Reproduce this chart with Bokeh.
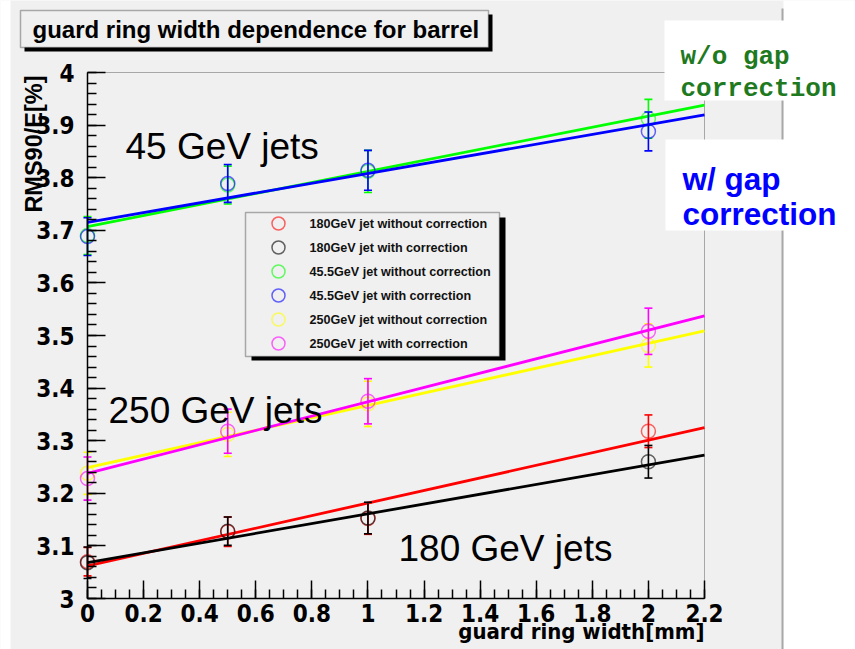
import numpy as np
from bokeh.plotting import figure
from bokeh.models import Range1d, FixedTicker, CustomJSTickFormatter, Label, BoxAnnotation
from bokeh.embed import file_html
from bokeh.resources import INLINE

# guard ring width [mm]
widths = [0.0, 0.5, 1.0, 2.0]

# RMS90/E [%] and its error, per jet energy, without / with gap correction
rms_180_nocorr = [3.070, 3.127, 3.152, 3.318]
err_180_nocorr = [0.027, 0.028, 0.030, 0.031]
rms_180_corr = [3.068, 3.128, 3.153, 3.260]
err_180_corr = [0.030, 0.027, 0.030, 0.031]
rms_45_nocorr = [3.690, 3.786, 3.812, 3.912]
err_45_nocorr = [0.036, 0.036, 0.040, 0.037]
rms_45_corr = [3.688, 3.789, 3.814, 3.888]
err_45_corr = [0.036, 0.036, 0.038, 0.037]
rms_250_nocorr = [3.238, 3.312, 3.370, 3.481]
err_250_nocorr = [0.040, 0.042, 0.043, 0.041]
rms_250_corr = [3.228, 3.318, 3.375, 3.508]
err_250_corr = [0.041, 0.042, 0.043, 0.044]

# straight-line fits: (intercept, slope)
fit_180_nocorr = (3.062, 0.1195)
fit_180_corr = (3.068, 0.093)
fit_45_nocorr = (3.707, 0.105)
fit_45_corr = (3.715, 0.093)
fit_250_nocorr = (3.249, 0.118)
fit_250_corr = (3.238, 0.136)

series = [
    ("180GeV jet without correction", rms_180_nocorr, err_180_nocorr, fit_180_nocorr, "#ff0000"),
    ("180GeV jet with correction", rms_180_corr, err_180_corr, fit_180_corr, "#000000"),
    ("45.5GeV jet without correction", rms_45_nocorr, err_45_nocorr, fit_45_nocorr, "#00ff00"),
    ("45.5GeV jet with correction", rms_45_corr, err_45_corr, fit_45_corr, "#0000ff"),
    ("250GeV jet without correction", rms_250_nocorr, err_250_nocorr, fit_250_nocorr, "#ffff00"),
    ("250GeV jet with correction", rms_250_corr, err_250_corr, fit_250_corr, "#ff00ff"),
]

# axis ticks
x_ticks = [0, 0.2, 0.4, 0.6, 0.8, 1.0, 1.2, 1.4, 1.6, 1.8, 2.0, 2.2]
y_ticks = [3.0, 3.1, 3.2, 3.3, 3.4, 3.5, 3.6, 3.7, 3.8, 3.9, 4.0]
X_MIN, X_MAX = 0.0, 2.2
Y_MIN, Y_MAX = 3.0, 4.0

W, H = 855, 649
FL, FR, FT, FB = 87, 704, 72, 598   # pixel box of the data pad
BG = "#f0f0f0"
COND = "DejaVu Sans Condensed"
SANS = "Liberation Sans"


def dx(px):
    return X_MIN + (px - FL) * (X_MAX - X_MIN) / (FR - FL)


def dy(py):
    return Y_MIN + (FB - py) * (Y_MAX - Y_MIN) / (FB - FT)


# the frame covers the whole canvas; the data pad sits inside it
p = figure(width=W, height=H, title=None,
           x_range=Range1d(dx(0), dx(W)), y_range=Range1d(dy(H), dy(0)),
           output_backend="svg", toolbar_location=None,
           min_border_left=0, min_border_right=0, min_border_top=0, min_border_bottom=0)
p.background_fill_color = BG
p.border_fill_color = BG
p.grid.visible = False
p.outline_line_color = None

fmt = CustomJSTickFormatter(code="return (Math.round(tick * 10) / 10).toString();")
x_minor = list(np.round(np.arange(0, 2.2001, 0.05), 3))
y_minor = list(np.round(np.arange(3.0, 4.0001, 0.02), 3))
p.xaxis.ticker = FixedTicker(ticks=x_ticks, minor_ticks=x_minor)
p.yaxis.ticker = FixedTicker(ticks=y_ticks, minor_ticks=y_minor)
p.xaxis.fixed_location = Y_MIN
p.yaxis.fixed_location = X_MIN
p.xaxis.bounds = (X_MIN, X_MAX)
p.yaxis.bounds = (Y_MIN, Y_MAX)
for ax in (p.xaxis, p.yaxis):
    ax.formatter = fmt
    ax.major_tick_in = 18
    ax.major_tick_out = 0
    ax.minor_tick_in = 9
    ax.minor_tick_out = 0
    ax.axis_line_width = 1.5
    ax.major_tick_line_width = 1.5
    ax.minor_tick_line_width = 1.5
    ax.major_label_text_font = COND
    ax.major_label_text_font_style = "bold"
    ax.major_label_text_font_size = "24px"
    ax.major_label_text_color = "black"
p.xaxis.major_label_standoff = 5
p.yaxis.major_label_standoff = 13

# canvas edges outside the grey pad, and the pad frame
p.add_layout(BoxAnnotation(left=dx(-5), right=dx(10), bottom=dy(H + 5), top=dy(-5),
                           fill_color="white", fill_alpha=1, line_color=None, level="underlay"))
p.add_layout(BoxAnnotation(left=dx(783), right=dx(W + 5), bottom=dy(H + 5), top=dy(-5),
                           fill_color="white", fill_alpha=1, line_color=None, level="underlay"))
p.add_layout(BoxAnnotation(left=dx(781), right=dx(783), bottom=dy(H + 5), top=dy(8),
                           fill_color="#a8a8a8", fill_alpha=1, line_color=None, level="underlay"))
p.add_layout(BoxAnnotation(left=X_MIN, right=X_MAX, bottom=Y_MIN, top=Y_MAX, fill_alpha=0,
                           line_color="black", line_width=1, level="underlay"))

# data: error bars, markers and fitted lines
x_fit = np.array([X_MIN, X_MAX])
for name, vals, errs, (a, b), col in series:
    v = np.array(vals)
    e = np.array(errs)
    p.segment(x0=widths, y0=v - e, x1=widths, y1=v + e, line_color=col, line_width=1.6)
    p.scatter(x=widths + widths, y=list(v - e) + list(v + e), marker="dash", size=8,
              line_color=col, line_width=1.6)
    p.scatter(x=widths, y=vals, marker="circle", size=14, fill_color=None,
              line_color=col, line_alpha=0.6, line_width=1.5)
    p.line(x=x_fit, y=a + b * x_fit, line_color=col, line_width=2.8)

# legend
p.add_layout(BoxAnnotation(left=dx(251), right=dx(505), top=dy(217), bottom=dy(360),
                           fill_color="black", fill_alpha=1, line_color=None))
p.add_layout(BoxAnnotation(left=dx(245), right=dx(499), top=dy(212), bottom=dy(356),
                           fill_color=BG, fill_alpha=1, line_color="black", line_width=1.5))
leg_y = [dy(223 + 24 * i) for i in range(len(series))]
p.scatter(x=[dx(278)] * len(series), y=leg_y, marker="circle", size=13, fill_color=None,
          line_color=[s[4] for s in series], line_alpha=0.6, line_width=1.5, level="overlay")
for (name, *_), yy in zip(series, leg_y):
    p.add_layout(Label(x=dx(309), y=yy, text=name, text_font=SANS, text_font_style="bold",
                       text_font_size="12.6px", text_baseline="middle", text_color="#111111"))

# title box
p.add_layout(BoxAnnotation(left=dx(24), right=dx(492), top=dy(14), bottom=dy(51),
                           fill_color="black", fill_alpha=1, line_color=None))
p.add_layout(BoxAnnotation(left=dx(20), right=dx(488), top=dy(10), bottom=dy(47),
                           fill_color=BG, fill_alpha=1, line_color="black", line_width=1.5))
p.add_layout(Label(x=dx(32), y=dy(29), text="guard ring width dependence for barrel",
                   text_font=SANS, text_font_style="bold", text_font_size="24px",
                   text_baseline="middle", text_color="black"))

# axis titles
p.add_layout(Label(x=dx(704), y=dy(631), text="guard ring width[mm]", text_font=COND,
                   text_font_style="bold", text_font_size="22px", text_align="right",
                   text_baseline="middle", text_color="black"))
p.add_layout(Label(x=dx(33), y=dy(75), text="RMS90/E[%]", angle=np.pi / 2, text_font=SANS,
                   text_font_style="bold", text_font_size="23.5px", text_align="right",
                   text_baseline="middle", text_color="black"))

# energy annotations
for txt, px, py in [("45 GeV jets", 125, 146), ("250 GeV jets", 108, 410), ("180 GeV jets", 398, 548)]:
    p.add_layout(Label(x=dx(px), y=dy(py), text=txt, text_font=SANS, text_font_size="37px",
                       text_baseline="alphabetic", text_color="black"))

# side notes
p.add_layout(BoxAnnotation(left=dx(664), right=dx(W + 5), top=dy(20), bottom=dy(100),
                           fill_color="white", fill_alpha=1, line_color=None))
p.add_layout(BoxAnnotation(left=dx(665), right=dx(W + 5), top=dy(139), bottom=dy(230),
                           fill_color="white", fill_alpha=1, line_color=None))
for txt, py in [("w/o gap", 56), ("correction", 88)]:
    p.add_layout(Label(x=dx(680), y=dy(py), text=txt, text_font="Liberation Mono",
                       text_font_style="bold", text_font_size="26px", text_baseline="alphabetic",
                       text_color="#1f7a1f"))
for txt, py in [("w/ gap", 178), ("correction", 213)]:
    p.add_layout(Label(x=dx(682), y=dy(py), text=txt, text_font=SANS,
                       text_font_style="bold", text_font_size="31.5px", text_baseline="alphabetic",
                       text_color="#0000ff"))

open("out.html", "w").write(file_html(p, INLINE))
